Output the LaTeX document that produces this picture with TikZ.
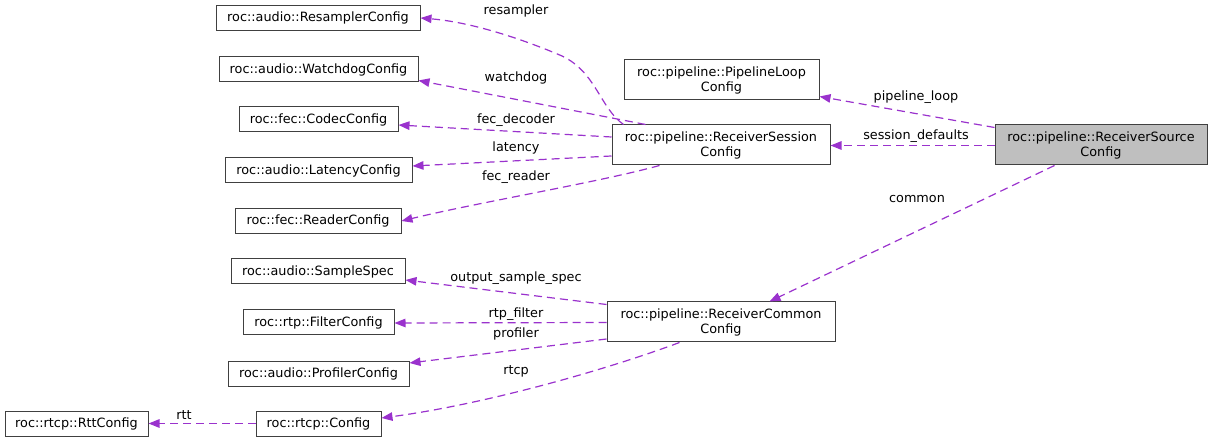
\documentclass[tikz,border=0pt]{standalone}
\usepackage{fontspec}
\setmainfont{DejaVu Sans}
\usetikzlibrary{arrows.meta,calc}
\definecolor{edgec}{HTML}{9A32CD}
\definecolor{boxc}{HTML}{404040}
\tikzset{
  box/.style={draw=boxc, line width=1pt, minimum height=25pt, inner sep=1pt, font=\fontsize{12.8}{15}\selectfont, align=center, text=black},
  tall/.style={minimum height=40pt},
  rel/.style={draw=edgec, line width=1.2pt, dash pattern=on 8pt off 5pt, -{Triangle[length=11pt,width=8.5pt,fill=edgec]}},
  lbl/.style={font=\fontsize{12.8}{15}\selectfont, inner sep=0pt, text=black}
}
\begin{document}
\begin{tikzpicture}[x=1pt,y=-1pt]
\useasboundingbox (0,0) rectangle (1212,443);
% nodes
\node[box, minimum width=204pt] (res) at (318,18) {roc::audio::ResamplerConfig};
\node[box, minimum width=199pt] (wd) at (318.5,69.5) {roc::audio::WatchdogConfig};
\node[box, minimum width=159pt] (codec) at (318.5,119.5) {roc::fec::CodecConfig};
\node[box, minimum width=187pt] (lat) at (318.5,170.5) {roc::audio::LatencyConfig};
\node[box, minimum width=166pt] (reader) at (318,221) {roc::fec::ReaderConfig};
\node[box, tall, minimum width=195pt] (ploop) at (721.5,80) {roc::pipeline::PipelineLoop\\Config};
\node[box, tall, minimum width=218pt] (sess) at (721,145) {roc::pipeline::ReceiverSession\\Config};
\node[box, tall, minimum width=212pt, fill=black!25] (src) at (1101,145) {roc::pipeline::ReceiverSource\\Config};
\node[box, minimum width=174pt] (spec) at (318,271.5) {roc::audio::SampleSpec};
\node[box, minimum width=151pt] (filt) at (318.5,322.5) {roc::rtp::FilterConfig};
\node[box, minimum width=181pt] (prof) at (318.5,373.5) {roc::audio::ProfilerConfig};
\node[box, minimum width=143pt] (rtt) at (76.5,423.5) {roc::rtcp::RttConfig};
\node[box, minimum width=125pt] (rtcp) at (318.5,423.5) {roc::rtcp::Config};
\node[box, tall, minimum width=228pt] (common) at (721,322) {roc::pipeline::ReceiverCommon\\Config};
% edges
\draw[rel] ($(sess.north west)+(12,0)$) .. controls (600,108) and (596,72) .. (562,56) .. controls (520,38) and (470,22) .. (res.east);
\draw[rel] ($(sess.north west)+(34,0)$) -- ($(wd.east)+(0,11)$);
\draw[rel] ($(sess.west)+(0,-8)$) -- ($(codec.east)+(0,5.5)$);
\draw[rel] ($(sess.west)+(0,11)$) -- ($(lat.east)+(0,-4.5)$);
\draw[rel] ($(sess.south west)+(48,0)$) .. controls (600,182) and (480,202) .. (reader.east);
\draw[rel] ($(src.north west)+(0,3)$) -- ($(ploop.south east)+(0,-4)$);
\draw[rel] ($(src.west)+(0,0.5)$) -- ($(sess.east)+(0,0.5)$);
\draw[rel] ($(src.south west)+(60,0)$) -- ($(common.north west)+(163,0)$);
\draw[rel] ($(common.north west)+(0,3)$) -- ($(spec.east)+(0,8.5)$);
\draw[rel] ($(common.west)+(0,0.5)$) -- ($(filt.east)+(0,0.5)$);
\draw[rel] ($(common.west)+(0,17)$) -- ($(prof.east)+(0,-10.5)$);
\draw[rel] ($(common.south west)+(73,0)$) .. controls (600,372) and (480,405) .. ($(rtcp.east)+(0,-5.5)$);
\draw[rel] ($(rtcp.west)+(0,0)$) -- ($(rtt.east)+(0,0)$);
% labels
\node[lbl] (l1) at (516,11) {resampler};
\node[lbl] (l2) at (516,78) {watchdog};
\node[lbl] (l3) at (516,120) {fec\_decoder};
\node[lbl] (l4) at (516,148) {latency};
\node[lbl] (l5) at (516,177) {fec\_reader};
\node[lbl] (l6) at (916,97) {pipeline\_loop};
\node[lbl] (l7) at (916,136) {session\_defaults};
\node[lbl] (l8) at (917,199) {common};
\node[lbl] (l9) at (516,278) {output\_sample\_spec};
\node[lbl] (l10) at (516,314) {rtp\_filter};
\node[lbl] (l11) at (516,334) {profiler};
\node[lbl] (l12) at (516,371) {rtcp};
\node[lbl] (l13) at (184,415) {rtt};
\end{tikzpicture}
\end{document}
